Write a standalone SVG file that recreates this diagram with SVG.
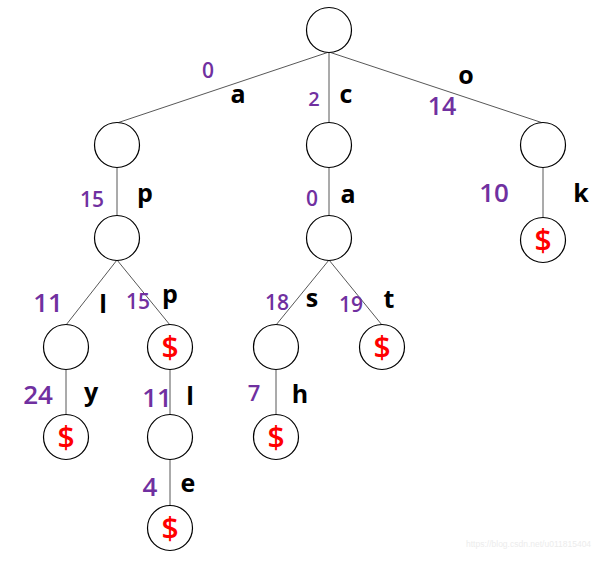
<svg xmlns="http://www.w3.org/2000/svg" width="595" height="563" viewBox="0 0 595 563">
  <style>
    .node { fill: #ffffff; stroke: #000000; stroke-width: 1.2; }
    .edge { stroke: #444444; stroke-width: 0.9; fill: none; }
    .end { font-family: "Open Sans", "Liberation Sans", sans-serif; font-size: 30px; font-weight: 600; fill: #ff0000; text-anchor: middle; }
    .ch { font-family: "Open Sans", "Liberation Sans", sans-serif; font-size: 25px; font-weight: bold; fill: #000000; text-anchor: middle; }
    .num { font-family: "Open Sans", "Liberation Sans", sans-serif; font-weight: 600; fill: #7030a0; text-anchor: middle; }
    .wm { font-family: "Liberation Sans", Arial, sans-serif; font-size: 8.5px; fill: #ececec; }
  </style>
  <rect width="595" height="563" fill="#ffffff"/>

  <!-- tree edges: parent bottom to child top -->
  <g id="edges">
    <line class="edge" x1="329" y1="52" x2="117" y2="123"/>
    <line class="edge" x1="329" y1="52" x2="329" y2="123"/>
    <line class="edge" x1="329" y1="52" x2="543" y2="123"/>
    <line class="edge" x1="117" y1="167" x2="117" y2="216"/>
    <line class="edge" x1="329" y1="167" x2="329" y2="216"/>
    <line class="edge" x1="543" y1="167" x2="543" y2="218"/>
    <line class="edge" x1="117" y1="260" x2="66" y2="325"/>
    <line class="edge" x1="117" y1="260" x2="170" y2="325"/>
    <line class="edge" x1="329" y1="260" x2="276" y2="325"/>
    <line class="edge" x1="329" y1="260" x2="382" y2="325"/>
    <line class="edge" x1="66" y1="369" x2="66" y2="415"/>
    <line class="edge" x1="170" y1="369" x2="170" y2="415"/>
    <line class="edge" x1="276" y1="369" x2="276" y2="415"/>
    <line class="edge" x1="170" y1="459" x2="170" y2="506"/>
  </g>

  <!-- edge labels: character and index -->
  <g id="edge-labels">
    <text class="num" x="208" y="78" font-size="21">0</text>
    <text class="ch" x="238" y="103">a</text>
    <text class="num" x="314" y="106" font-size="20">2</text>
    <text class="ch" x="346" y="103">c</text>
    <text class="ch" x="466" y="84">o</text>
    <text class="num" x="442" y="115" font-size="25">14</text>

    <text class="num" x="92" y="207" font-size="21">15</text>
    <text class="ch" x="145" y="202">p</text>
    <text class="num" x="312" y="206" font-size="21">0</text>
    <text class="ch" x="348" y="203">a</text>
    <text class="num" x="494" y="202" font-size="26">10</text>
    <text class="ch" x="581" y="202">k</text>

    <text class="num" x="48" y="312" font-size="26">11</text>
    <text class="ch" x="103" y="313">l</text>
    <text class="num" x="138" y="309" font-size="21">15</text>
    <text class="ch" x="170" y="303">p</text>
    <text class="num" x="277" y="310" font-size="21">18</text>
    <text class="ch" x="312" y="307">s</text>
    <text class="num" x="351" y="312" font-size="21">19</text>
    <text class="ch" x="389" y="308">t</text>

    <text class="num" x="38" y="404" font-size="26">24</text>
    <text class="ch" x="91" y="401">y</text>
    <text class="num" x="157" y="407" font-size="26">11</text>
    <text class="ch" x="190" y="405">l</text>
    <text class="num" x="254" y="401" font-size="22">7</text>
    <text class="ch" x="300" y="403">h</text>

    <text class="num" x="150" y="496" font-size="26">4</text>
    <text class="ch" x="188" y="492">e</text>
  </g>

  <!-- nodes; "$" marks the end of a stored suffix -->
  <g id="root"><circle class="node" cx="329" cy="30" r="22.5"/></g>
  <g id="n-a"><circle class="node" cx="117" cy="145" r="22.5"/></g>
  <g id="n-c"><circle class="node" cx="329" cy="145" r="22.5"/></g>
  <g id="n-o"><circle class="node" cx="543" cy="145" r="22.5"/></g>
  <g id="n-ap"><circle class="node" cx="117" cy="238" r="22.5"/></g>
  <g id="n-ca"><circle class="node" cx="329" cy="238" r="22.5"/></g>
  <g id="n-ok"><circle class="node" cx="543" cy="240" r="22.5"/><text class="end" x="543" y="250.5">$</text></g>
  <g id="n-apl"><circle class="node" cx="66" cy="347" r="22.5"/></g>
  <g id="n-app"><circle class="node" cx="170" cy="347" r="22.5"/><text class="end" x="170" y="357.5">$</text></g>
  <g id="n-cas"><circle class="node" cx="276" cy="347" r="22.5"/></g>
  <g id="n-cat"><circle class="node" cx="382" cy="347" r="22.5"/><text class="end" x="382" y="357.5">$</text></g>
  <g id="n-aply"><circle class="node" cx="66" cy="437" r="22.5"/><text class="end" x="66" y="447.5">$</text></g>
  <g id="n-appl"><circle class="node" cx="170" cy="437" r="22.5"/></g>
  <g id="n-cash"><circle class="node" cx="276" cy="437" r="22.5"/><text class="end" x="276" y="447.5">$</text></g>
  <g id="n-apple"><circle class="node" cx="170" cy="528" r="22.5"/><text class="end" x="170" y="538.5">$</text></g>

  <text class="wm" x="466" y="547">https://blog.csdn.net/u011815404</text>
</svg>
